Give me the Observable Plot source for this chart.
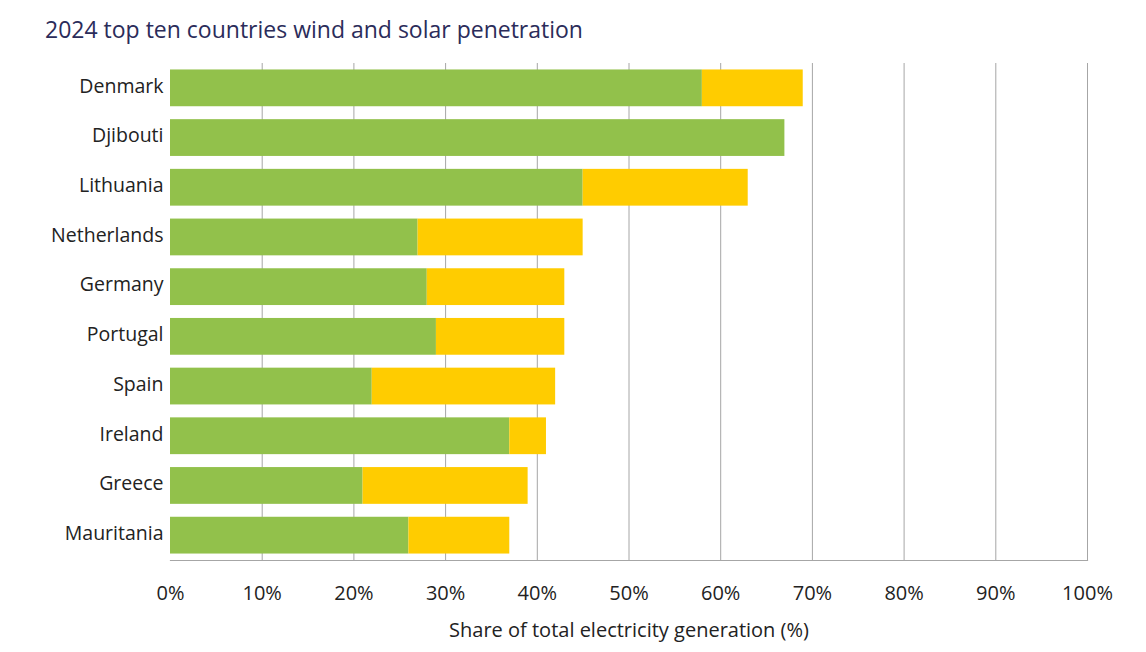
<!DOCTYPE html>
<html>
<head>
<meta charset="utf-8">
<script src="https://cdn.jsdelivr.net/npm/d3@7"></script>
<script src="https://cdn.jsdelivr.net/npm/@observablehq/plot@0.6"></script>
<style>
  html, body { margin: 0; padding: 0; background: #fff; }
  #title { height: 50px; box-sizing: border-box; padding: 13px 0 0 45px; font-family: "Open Sans", sans-serif; font-size: 23px; color: #2b2c5a; line-height: 32px; }
  svg { display: block; }
</style>
</head>
<body>
<div id="title">2024 top ten countries wind and solar penetration</div>
<div id="chart"></div>
<script>
const countries = ["Denmark", "Djibouti", "Lithuania", "Netherlands", "Germany", "Portugal", "Spain", "Ireland", "Greece", "Mauritania"];
const wind = [58, 67, 45, 27, 28, 29, 22, 37, 21, 26];
const solar = [11, 0, 18, 18, 15, 14, 20, 4, 18, 11];
const xTicks = [0, 10, 20, 30, 40, 50, 60, 70, 80, 90, 100];
const gridTicks = [10, 20, 30, 40, 50, 60, 70, 80, 90, 100];

const data = [];
countries.forEach((c, i) => {
  data.push({country: c, type: "Wind", value: wind[i]});
  data.push({country: c, type: "Solar", value: solar[i]});
});

const chart = Plot.plot({
  width: 1146,
  height: 602,
  marginLeft: 170,
  marginRight: 59,
  marginTop: 13,
  marginBottom: 92,
  style: {fontFamily: "Open Sans, sans-serif", fontSize: "19.5px", color: "#222"},
  x: {domain: [0, 100], label: null},
  y: {domain: countries, paddingInner: 0.26, paddingOuter: 0.13, round: false, label: null},
  color: {domain: ["Wind", "Solar"], range: ["#92c14b", "#ffcc00"]},
  marks: [
    Plot.gridX(gridTicks, {stroke: "#a6a6a6", strokeOpacity: 1, strokeWidth: 1}),
    Plot.barX(data, {x: "value", y: "country", fill: "type", order: null}),
    Plot.frame({anchor: "bottom", stroke: "#a6a6a6", strokeWidth: 1.2}),
    Plot.axisY({tickSize: 0, tickPadding: 7, dy: -2, fontSize: 19.5, fill: "#222", label: null}),
    Plot.axisX(xTicks, {tickSize: 0, tickPadding: 25, fontSize: 20, fill: "#222", tickFormat: d => d + "%",
      label: "Share of total electricity generation (%)", labelAnchor: "center", labelArrow: "none", labelOffset: 76})
  ]
});
document.getElementById("chart").appendChild(chart);
</script>
</body>
</html>
